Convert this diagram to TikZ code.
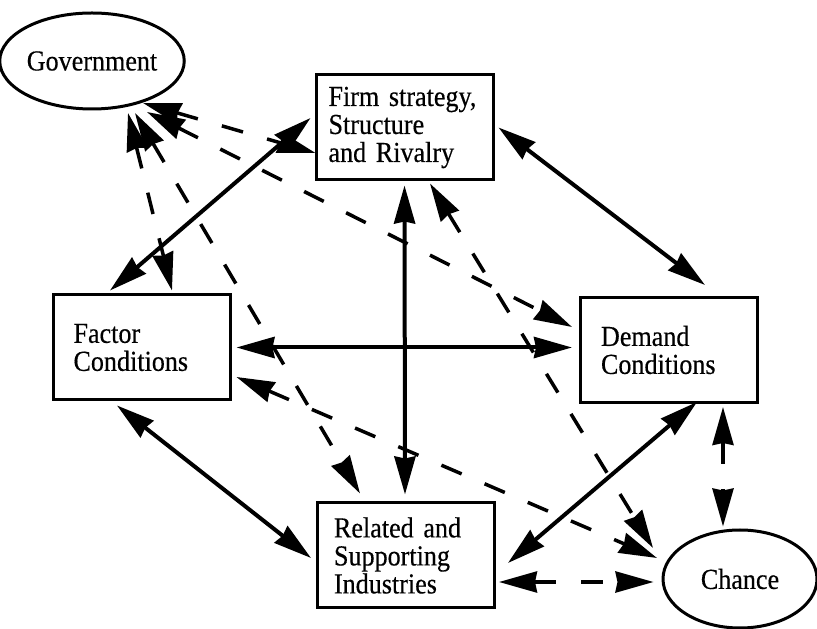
\documentclass[tikz,border=0pt]{standalone}
\usepackage{fontspec}
\setmainfont{Liberation Serif}[FakeStretch=0.9,FakeBold=0.4]
\usetikzlibrary{arrows.meta,shapes.geometric}

\begin{document}
\begin{tikzpicture}[
		x=1pt,y=1pt,
		>={Stealth[length=38pt,width=21pt,inset=2pt]},
		cond/.style={
			draw,
			line width=3pt,
			rectangle,
			align=left,
			text width=152pt,
			minimum width=177pt,
			minimum height=105pt,
			font=\fontsize{29}{28}\selectfont,
		},
		oval/.style={
			draw,
			line width=3pt,
			ellipse,
			inner sep=0pt,
			font=\fontsize{29}{28}\selectfont,
		},
		tie/.style={
			<->,
			line width=4pt,
		},
		dtie/.style={
			tie,
			line width=3.5pt,
			dash pattern=on 22pt off 25pt,
		}
	]
	\useasboundingbox (0,0) rectangle (817,629);

	\node[oval,minimum width=164pt,minimum height=96pt] (gov) at (92,568) {Government};
	\node[cond] (firm) at (404.5,501.5) {Firm strategy,\\Structure\\and Rivalry};
	\node[cond] (factor) at (141.5,281.5) {\hspace*{8pt}Factor\\\hspace*{8pt}Conditions};
	\node[cond] (demand) at (669,279) {\hspace*{8pt}Demand\\\hspace*{8pt}Conditions};
	\node[cond] (related) at (406,73.5) {\hspace*{4pt}Related and\\\hspace*{4pt}Supporting\\\hspace*{4pt}Industries};
	\node[oval,minimum width=154pt,minimum height=98pt] (chance) at (740,50) {Chance};

	% solid links
	\draw ([xshift=-4pt,yshift=9.5pt]firm.west) edge[tie] ([xshift=-31.5pt,yshift=3pt]factor.north);
	\draw ([xshift=4pt]firm.east) edge[tie] ([xshift=36pt,yshift=11pt]demand.north);
	\draw ([yshift=-4pt]firm.south) edge[tie] ([xshift=-1pt,yshift=7pt]related.north);
	\draw ([xshift=5pt]factor.east) edge[tie] ([xshift=-7pt,yshift=2.5pt]demand.west);
	\draw ([xshift=-24.5pt,yshift=-4pt]factor.south) edge[tie] ([xshift=-5pt,yshift=-2.5pt]related.west);
	\draw ([xshift=28pt,yshift=2pt]demand.south) edge[tie] ([xshift=12pt,yshift=-7.5pt]related.east);

	% dashed links
	\draw ([xshift=51pt,yshift=-42pt]gov.center) edge[dtie] ([xshift=1pt,yshift=-25.5pt]firm.west);
	\draw ([xshift=55pt,yshift=-51pt]gov.center) edge[dtie] ([xshift=-7pt,yshift=23pt]demand.west);
	\draw ([xshift=36pt,yshift=-52pt]gov.center) edge[dtie] ([xshift=30.5pt,yshift=3pt]factor.north);
	\draw ([xshift=43pt,yshift=-52pt]gov.center) edge[dtie] ([xshift=-46pt,yshift=8pt]related.north);
	\draw ([xshift=25.5pt,yshift=-2pt]firm.south) edge[dtie] ([xshift=-87pt,yshift=31pt]chance.center);
	\draw ([xshift=5pt,yshift=-29.5pt]factor.east) edge[dtie] ([xshift=-83pt,yshift=21pt]chance.center);
	\draw ([xshift=54pt,yshift=-3pt]demand.south) edge[dtie] ([xshift=-17pt,yshift=2pt]chance.north);
	\draw ([xshift=3pt,yshift=-26.5pt]related.east) edge[dtie] ([xshift=-8pt,yshift=-3pt]chance.west);

\end{tikzpicture}
\end{document}
